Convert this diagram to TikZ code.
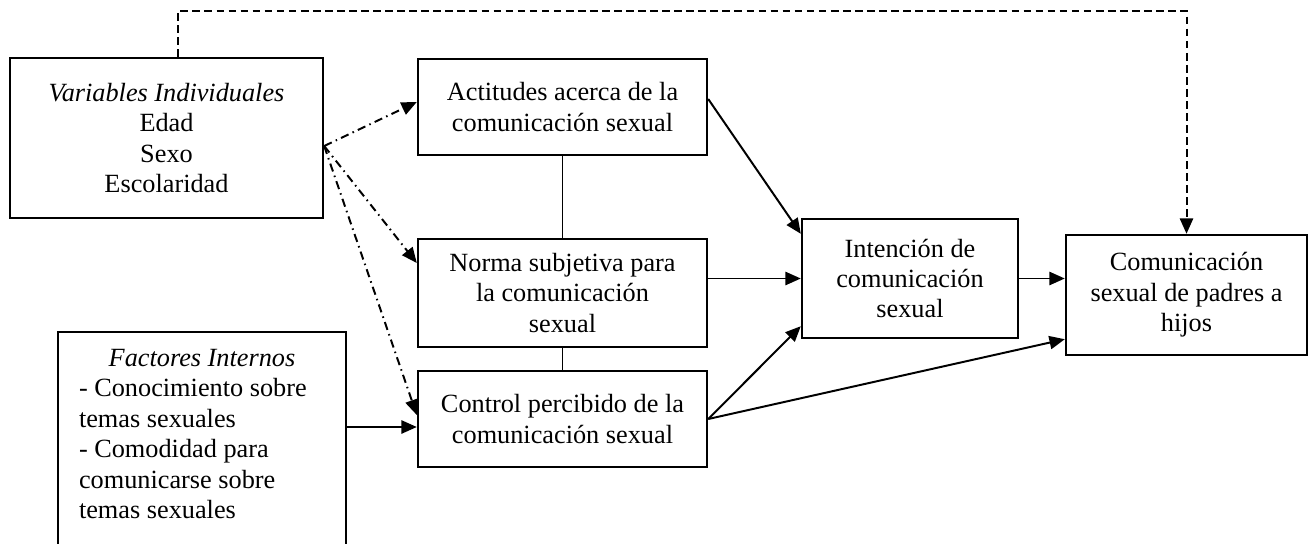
\documentclass[tikz,border=0pt]{standalone}
\usepackage{fontspec}
\setmainfont{Liberation Serif}
\usetikzlibrary{arrows.meta}
\newlength\pxu
\setlength\pxu{0.4566pt}
\newcommand\boxfont{\fontsize{12pt}{13.9pt}\selectfont}

\begin{document}
\begin{tikzpicture}[
    x=\pxu,y=-\pxu,
    frame/.style={draw,line width=1.1pt,inner sep=0pt,font=\boxfont},
    blk/.style={frame,align=center},
    link/.style={line width=0.9pt},
    arr/.style={link,-{Triangle[length=7pt,width=6pt]}},
    dsh/.style={arr,dash pattern=on 3.5pt off 2pt},
    dshdot/.style={arr,dash pattern=on 3.8pt off 2pt on 0.7pt off 2pt}
  ]
    \useasboundingbox (0,0) rectangle (1313,543);

    \node[blk,minimum width=313*\pxu,minimum height=160*\pxu] (vars) at (166.5,138)
      {\textit{Variables Individuales}\\ Edad\\ Sexo\\ Escolaridad};

    \node[blk,minimum width=289*\pxu,minimum height=96*\pxu] (acti) at (562.5,107)
      {Actitudes acerca de la\\ comunicación sexual};
    \node[blk,minimum width=289*\pxu,minimum height=108*\pxu] (norma) at (562.5,293)
      {Norma subjetiva para\\ la comunicación\\ sexual};
    \node[blk,minimum width=289*\pxu,minimum height=96*\pxu] (ctrl) at (562.5,419)
      {Control percibido de la\\ comunicación sexual};

    \node[frame,anchor=north,inner xsep=21*\pxu,inner ysep=17*\pxu] (fact) at (202,331)
      {\begin{minipage}[t][230\pxu][t]{246\pxu}
        \centering\textit{Factores Internos}\par
        \raggedright - Conocimiento sobre\\ temas sexuales\\ - Comodidad para\\
        comunicarse sobre\\ temas sexuales
      \end{minipage}};

    \node[blk,minimum width=216*\pxu,minimum height=119*\pxu] (inten) at (910,278.5)
      {Intención de\\ comunicación\\ sexual};
    \node[blk,minimum width=241*\pxu,minimum height=120*\pxu] (comu) at (1186.5,295)
      {Comunicación\\ sexual de padres a\\ hijos};

    \coordinate (vfork) at ([yshift=-8*\pxu]vars.east);
    \coordinate (dtop) at (1186.5,11);
    \coordinate (cin) at ([yshift=-8*\pxu]ctrl.west);

    \draw[dsh] ([xshift=11.5*\pxu]vars.north) |- (dtop) -- (comu.north);

    \draw[dshdot] (vfork) -- ([yshift=5*\pxu]acti.west);
    \draw[dshdot] (vfork) -- ([yshift=30*\pxu]norma.west);
    \draw[dshdot] (vfork) -- ([yshift=4*\pxu]ctrl.west);

    \draw[link] (acti) -- (norma);
    \draw[link] (norma) -- (ctrl);

    \draw[arr] (fact.east |- cin) -- (cin);
    \draw[arr] ([yshift=8*\pxu]acti.east) -- ([yshift=-16*\pxu]inten.north west);
    \draw[arr] (norma.east |- inten.west) -- (inten.west);
    \draw[arr] (ctrl.east) -- ([yshift=13*\pxu]inten.south west);
    \draw[arr] (ctrl.east) -- ([yshift=17*\pxu]comu.south west);
    \draw[arr] (inten.east) -- (inten.east -| comu.west);
  \end{tikzpicture}
\end{document}
